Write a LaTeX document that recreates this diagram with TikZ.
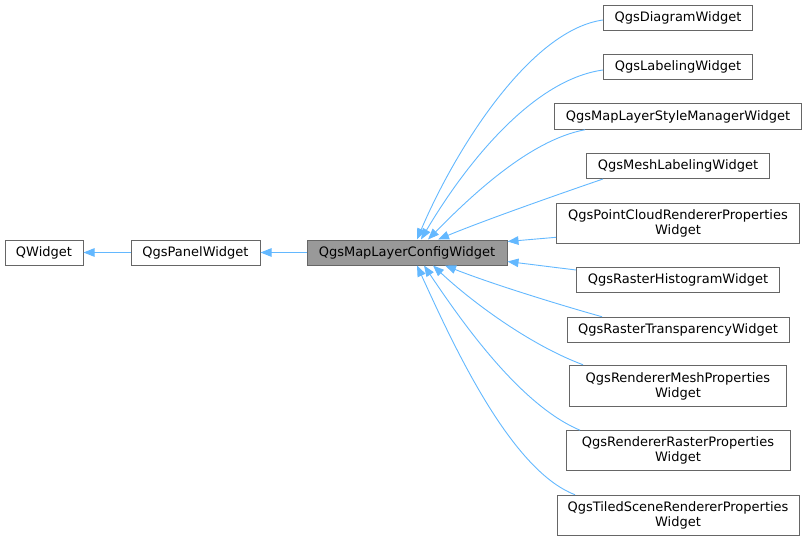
\documentclass[tikz,border=0pt]{standalone}
\usepackage{fontspec}
\setmainfont{DejaVu Sans}
\usetikzlibrary{arrows.meta}
\definecolor{edgeblue}{HTML}{63B8FF}
\definecolor{boxgray}{HTML}{666666}
\definecolor{fillgray}{HTML}{999999}
\tikzset{
  cls/.style={draw=boxgray, line width=1pt, fill=white, inner sep=0pt, align=center,
    font=\fontsize{13}{15}\selectfont, text=black},
  edge/.style={draw=edgeblue, line width=0.9pt, -{Triangle[length=11pt,width=8.5pt]}},
}
\begin{document}
\begin{tikzpicture}[x=1pt,y=-1pt]
\useasboundingbox (0,0) rectangle (807,541);
% nodes
\node[cls, minimum width=78pt, minimum height=25pt] (qw) at (44,252.5) {QWidget};
\node[cls, minimum width=129pt, minimum height=25pt] (panel) at (195.5,252.5) {QgsPanelWidget};
\node[cls, fill=fillgray, minimum width=200pt, minimum height=25pt] (cfg) at (407,252.5) {QgsMapLayerConfigWidget};
\node[cls, minimum width=149pt, minimum height=25.5pt] (diag) at (678,18) {QgsDiagramWidget};
\node[cls, minimum width=149pt, minimum height=25.5pt] (lab) at (678,67) {QgsLabelingWidget};
\node[cls, minimum width=247pt, minimum height=25.5pt] (style) at (678,116.5) {QgsMapLayerStyleManagerWidget};
\node[cls, minimum width=183pt, minimum height=25pt] (meshlab) at (678,166) {QgsMeshLabelingWidget};
\node[cls, minimum width=243pt, minimum height=40pt] (pc) at (678,223.3) {QgsPointCloudRendererProperties\\Widget};
\node[cls, minimum width=203pt, minimum height=25pt] (hist) at (678,280) {QgsRasterHistogramWidget};
\node[cls, minimum width=222pt, minimum height=25.5pt] (transp) at (678,330) {QgsRasterTransparencyWidget};
\node[cls, minimum width=217pt, minimum height=41.5pt] (rmesh) at (678,386) {QgsRendererMeshProperties\\Widget};
\node[cls, minimum width=224pt, minimum height=40pt] (rraster) at (678,450.7) {QgsRendererRasterProperties\\Widget};
\node[cls, minimum width=242pt, minimum height=40pt] (tiled) at (678,515.2) {QgsTiledSceneRendererProperties\\Widget};
% edges
\draw[edge] (panel.west) -- (qw.east);
\draw[edge] (cfg.west) -- (panel.east);
\draw[edge] ([yshift=-2pt]diag.west) .. controls (530,30) and (455,150) .. ([xshift=10pt]cfg.north);
\draw[edge] ([yshift=-3pt]lab.west) .. controls (530,80) and (462,170) .. ([xshift=14pt]cfg.north);
\draw[edge] ([xshift=-93pt]style.south) .. controls (530,140) and (472,195) .. ([xshift=21pt]cfg.north);
\draw[edge] ([xshift=-75pt]meshlab.south) .. controls (565,192) and (485,220) .. ([xshift=31pt]cfg.north);
\draw[edge] ([yshift=-14pt]pc.west) -- ([yshift=11pt]cfg.east);
\draw[edge] ([yshift=10pt]hist.west) -- ([yshift=-9pt]cfg.east);
\draw[edge] ([xshift=-76pt]transp.north) .. controls (560,305) and (492,284) .. ([xshift=38pt]cfg.south);
\draw[edge] ([xshift=-95pt]rmesh.north) .. controls (530,345) and (472,302) .. ([xshift=26pt]cfg.south);
\draw[edge] ([xshift=-98pt]rraster.north) .. controls (520,405) and (462,322) .. ([xshift=17pt]cfg.south);
\draw[edge] ([xshift=-103pt]tiled.north) .. controls (510,470) and (452,342) .. ([xshift=10pt]cfg.south);
\end{tikzpicture}
\end{document}
